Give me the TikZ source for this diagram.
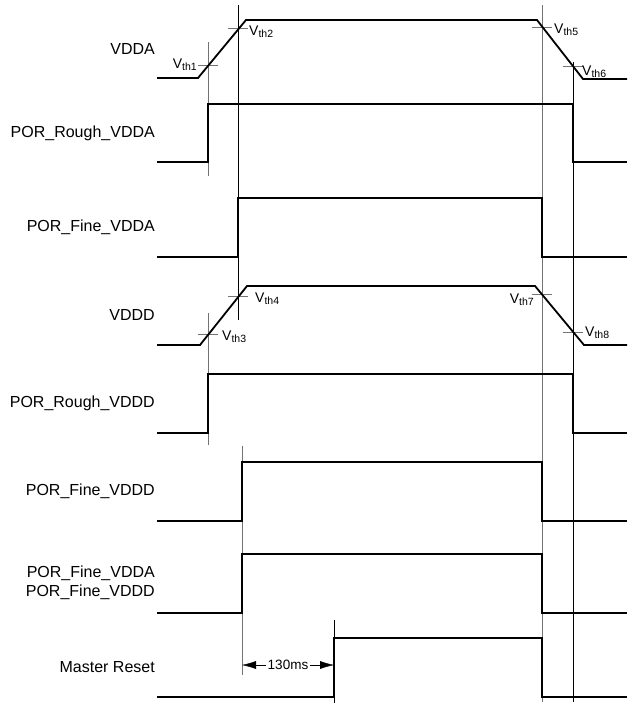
\documentclass[tikz,border=0pt]{standalone}
\usepackage{fontspec}
\setmainfont{Liberation Sans}
\usetikzlibrary{arrows.meta}
\newcommand\vth[1]{V\raisebox{-0.35ex}{\fontsize{10.5}{10.5}\selectfont th#1}}

\begin{document}
\begin{tikzpicture}[x=1pt,y=-1pt,
    wave/.style={line width=1.8pt},
    guide/.style={line width=0.7pt},
    guidegray/.style={line width=0.9pt,black!55},
    thtick/.style={line width=0.8pt,black!55},
    siglabel/.style={anchor=east,inner sep=0pt,align=right,font=\fontsize{16}{19}\selectfont},
    thlabel/.style={inner sep=0pt,font=\fontsize{14}{14}\selectfont}]
    \useasboundingbox (0,0) rectangle (628,704);

    % guide lines
    \draw[guidegray] (208,42) -- (208,176);
    \draw[guide] (238,5) -- (238,320);
    \draw[guidegray] (208,313) -- (208,445);
    \draw[guidegray] (242,446) -- (242,675);
    \draw[guide] (334,620) -- (334,703);
    \draw[guidegray] (542,5) -- (542,702);
    \draw[guide] (573,62) -- (573,702);

    % threshold ticks
    \foreach \px/\py in {208/65,238/28,542/27,573/66,208/334,238/296,542/294,573/332}
        \draw[thtick] (\px-10,\py) -- (\px+10,\py);

    % waveforms
    \draw[wave] (157,78) -- (198,78) -- (246,20) -- (537,20) -- (583,79) -- (627,79);
    \draw[wave] (157,162) -- (208,162) -- (208,104) -- (573,104) -- (573,162) -- (627,162);
    \draw[wave] (157,257) -- (238,257) -- (238,198) -- (542,198) -- (542,257) -- (627,257);
    \draw[wave] (157,345) -- (200,345) -- (247,286) -- (535,286) -- (584,345) -- (627,345);
    \draw[wave] (157,433) -- (208,433) -- (208,374) -- (573,374) -- (573,433) -- (627,433);
    \draw[wave] (157,521) -- (242,521) -- (242,462) -- (542,462) -- (542,521) -- (627,521);
    \draw[wave] (157,613) -- (242,613) -- (242,554) -- (542,554) -- (542,613) -- (627,613);
    \draw[wave] (157,697) -- (334,697) -- (334,638) -- (542,638) -- (542,697) -- (627,697);

    % signal names
    \node[siglabel] (vdda) at (155,49) {VDDA};
    \node[siglabel] (roughA) at (155,133) {POR\_Rough\_VDDA};
    \node[siglabel] (fineA) at (155,227) {POR\_Fine\_VDDA};
    \node[siglabel] (vddd) at (155,315) {VDDD};
    \node[siglabel] (roughD) at (155,403) {POR\_Rough\_VDDD};
    \node[siglabel] (fineD) at (155,491) {POR\_Fine\_VDDD};
    \node[siglabel] (fineAD) at (155,583) {POR\_Fine\_VDDA\\POR\_Fine\_VDDD};
    \node[siglabel] (mreset) at (155,667) {Master Reset};

    % thresholds
    \node[thlabel,anchor=base east] (th1) at (197,68) {\vth1};
    \node[thlabel,anchor=base west] (th2) at (249,35) {\vth2};
    \node[thlabel,anchor=base west] (th3) at (222,340) {\vth3};
    \node[thlabel,anchor=base west] (th4) at (255,302) {\vth4};
    \node[thlabel,anchor=base west] (th5) at (554,33) {\vth5};
    \node[thlabel,anchor=base west] (th6) at (582,75) {\vth6};
    \node[thlabel,anchor=base east] (th7) at (534,303) {\vth7};
    \node[thlabel,anchor=base west] (th8) at (585,336) {\vth8};

    % delay
    \coordinate (msl) at (242,665);
    \coordinate (msr) at (334,665);
    \node[inner sep=1.5pt,font=\fontsize{13.5}{14}\selectfont] (ms) at (288,665) {130ms};
    \draw[-{Latex[length=14pt,width=8pt]}] (ms) -- (msl);
    \draw[-{Latex[length=14pt,width=8pt]}] (ms) -- (msr);
\end{tikzpicture}
\end{document}
